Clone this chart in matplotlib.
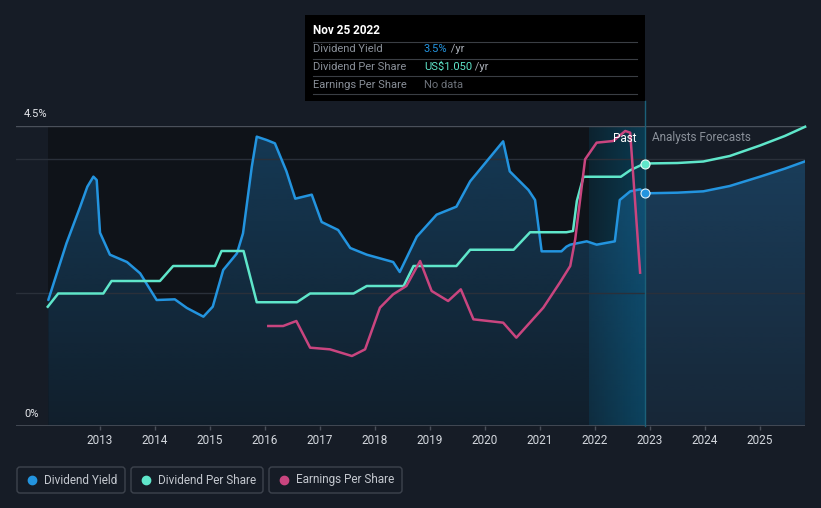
import numpy as np
import matplotlib.pyplot as plt
from matplotlib.patches import FancyBboxPatch, Rectangle

plt.rcParams['font.family'] = ['Roboto', 'DejaVu Sans']

# dividend yield (%), past and analyst forecast
yield_years = [2012.06, 2012.39, 2012.64, 2012.77, 2012.88, 2012.94, 2013.0, 2013.18, 2013.49,
               2013.73, 2014.03, 2014.36, 2014.58, 2014.88, 2015.05, 2015.24, 2015.49, 2015.6,
               2015.76, 2015.85, 2016.03, 2016.18, 2016.39, 2016.55, 2016.85, 2017.03, 2017.33,
               2017.55, 2017.85, 2018.33, 2018.45, 2018.76, 2019.12, 2019.48, 2019.73, 2020.33,
               2020.45, 2020.79, 2020.91, 2021.03, 2021.39, 2021.48, 2021.55, 2021.85, 2022.03,
               2022.36, 2022.45, 2022.64, 2022.82, 2022.9]
yield_pct = [1.89, 2.74, 3.29, 3.59, 3.74, 3.69, 2.9, 2.57, 2.46,
             2.29, 1.89, 1.9, 1.77, 1.64, 1.79, 2.34, 2.59, 2.89,
             3.89, 4.34, 4.29, 4.24, 3.82, 3.41, 3.47, 3.06, 2.94,
             2.67, 2.57, 2.46, 2.31, 2.84, 3.17, 3.29, 3.67, 4.27,
             3.82, 3.54, 3.39, 2.62, 2.62, 2.69, 2.72, 2.77, 2.72,
             2.77, 3.39, 3.52, 3.55, 3.49]
fc_yield_years = [2022.9, 2023.5, 2023.97, 2024.45, 2025.0, 2025.45, 2025.82]
fc_yield_pct = [3.49, 3.5, 3.52, 3.6, 3.74, 3.86, 3.97]

# dividend per share (US$)
dps_years = [2012.05, 2012.24, 2013.06, 2013.21, 2014.09, 2014.33, 2015.09, 2015.21, 2015.61,
             2015.85, 2016.58, 2016.82, 2017.61, 2017.85, 2018.52, 2018.7, 2019.48, 2019.73,
             2020.52, 2020.82, 2021.48, 2021.6, 2021.67, 2021.79, 2022.47, 2022.64, 2022.9]
dps = [0.477, 0.53, 0.53, 0.58, 0.58, 0.64, 0.64, 0.70, 0.70,
       0.495, 0.495, 0.53, 0.53, 0.56, 0.56, 0.64, 0.64, 0.705,
       0.705, 0.775, 0.775, 0.78, 0.90, 0.997, 0.997, 1.023, 1.05]
fc_dps_years = [2022.9, 2023.5, 2023.97, 2024.45, 2025.0, 2025.45, 2025.82]
fc_dps = [1.05, 1.052, 1.058, 1.08, 1.122, 1.16, 1.197]

# earnings per share (US$)
eps_years = [2016.06, 2016.33, 2016.57, 2016.82, 2017.18, 2017.58, 2017.82, 2018.09, 2018.33,
             2018.57, 2018.82, 2019.03, 2019.33, 2019.56, 2019.79, 2020.33, 2020.57, 2021.06,
             2021.36, 2021.55, 2021.64, 2021.82, 2022.03, 2022.33, 2022.55, 2022.64, 2022.82]
eps = [0.60, 0.60, 0.63, 0.47, 0.46, 0.42, 0.46, 0.71, 0.79,
       0.84, 0.99, 0.81, 0.75, 0.82, 0.64, 0.62, 0.53, 0.71,
       0.86, 0.96, 1.12, 1.60, 1.70, 1.71, 1.77, 1.76, 0.92]

tick_years = list(range(2013, 2026))
now = 2022.9
past_start = 2021.89

BG = '#161c26'
BLUE = '#2394df'
TEAL = '#5fe6ca'
PINK = '#c9457f'

W, H = 821, 508
fig = plt.figure(figsize=(W / 100, H / 100), dpi=100, facecolor=BG)

ax = fig.add_axes([16 / W, (H - 426) / H, 789 / W, 300 / H])
ax.set_facecolor(BG)
for s in ax.spines.values():
    s.set_visible(False)
ax.set_yticks([])
ax.set_xticks(tick_years, [str(y) for y in tick_years])
ax.tick_params(axis='x', colors='#4a505a', length=3, width=1, pad=3, labelsize=8.5,
               labelcolor='#d4d8de')

# darker past area
ax.add_patch(Rectangle((yield_years[0], 0), now - yield_years[0], 4.5,
                       facecolor='#0f1319', edgecolor='none', zorder=0))

# past highlight band
band = np.zeros((1, 64, 4))
band[..., 0] = 8 / 255
band[..., 1] = 72 / 255
band[..., 2] = 100 / 255
band[..., 3] = np.linspace(0.3, 0.75, 64)
ax.imshow(band, extent=[past_start, now, 0, 4.5], aspect='auto', zorder=1, interpolation='bilinear')

# gridlines
for g in [2.0, 4.0]:
    ax.axhline(g, color='#2a303a', lw=1, zorder=3)
ax.axhline(4.5, color='#4a505a', lw=1, zorder=3)
ax.axhline(0, color='#4a505a', lw=1.2, zorder=3)

# gradient fill under dividend yield
all_years = yield_years + fc_yield_years[1:]
all_yield = yield_pct + fc_yield_pct[1:]
fill = ax.fill_between(all_years, all_yield, 0, color='none', lw=0)
grad = np.zeros((128, 1, 4))
grad[..., 0] = 35 / 255
grad[..., 1] = 140 / 255
grad[..., 2] = 215 / 255
grad[..., 3] = np.linspace(0.32, 0.1, 128)[:, None]
im = ax.imshow(grad, extent=[all_years[0], all_years[-1], 0, 4.5], aspect='auto',
               zorder=2, interpolation='bilinear')
im.set_clip_path(fill.get_paths()[0], transform=ax.transData)
ax.set_xlim(2013 + (16 - 100) / 55, 2013 + (805 - 100) / 55)
ax.set_ylim(0, 4.5)

# now line
ax.plot([now, now], [0, 4.87], color='#1b6079', lw=1, zorder=4, clip_on=False)

ax.plot(yield_years, yield_pct, color=BLUE, lw=1.8, zorder=6, solid_capstyle='round')
ax.plot(fc_yield_years, fc_yield_pct, color=BLUE, lw=1.8, zorder=6)
ax.plot([now], [yield_pct[-1]], 'o', ms=6.5, color=BLUE, mec='#dff1fb', mew=0.8, zorder=9)

ax2 = ax.twinx()
ax2.set_ylim(0, 1.2)
ax2.axis('off')
ax2.plot(dps_years, dps, color=TEAL, lw=1.8, zorder=5)
ax2.plot(fc_dps_years, fc_dps, color=TEAL, lw=1.8, zorder=5, clip_on=False)
ax2.plot([now], [dps[-1]], 'o', ms=6.5, color=TEAL, mec='#e6fbf6', mew=0.8, zorder=9)

ax3 = ax.twinx()
ax3.set_ylim(0, 1.8)
ax3.axis('off')
ax3.plot(eps_years, eps, color=PINK, lw=1.8, zorder=5, clip_on=False)

# overlay in pixel space for labels, tooltip and legend
ov = fig.add_axes([0, 0, 1, 1], zorder=10)
ov.set_xlim(0, W)
ov.set_ylim(H, 0)
ov.axis('off')

ov.text(24, 114, '4.5%', color='#e6e8ec', fontsize=8, va='center', ha='left')
ov.text(24, 414, '0%', color='#e6e8ec', fontsize=8, va='center', ha='left')
ov.text(636, 138, 'Past', color='#ffffff', fontsize=8.5, va='center', ha='right')
ov.text(652, 138, 'Analysts Forecasts', color='#8a9099', fontsize=8.5, va='center', ha='left')

# tooltip
ov.add_patch(Rectangle((305, 15), 340, 86, facecolor='#000000', edgecolor='none'))
ov.text(313, 30, 'Nov 25 2022', color='#ffffff', fontsize=8.5, fontweight='bold', va='center')
for yy in [41.5, 58.5, 76, 93.5]:
    ov.plot([313, 637], [yy, yy], color='#3a3e44', lw=0.8)
rows = [('Dividend Yield', '3.5%', BLUE, ' /yr'),
        ('Dividend Per Share', 'US$1.050', TEAL, ' /yr'),
        ('Earnings Per Share', 'No data', '#6d727a', '')]
for (lab, val, col, unit), yy in zip(rows, [49.5, 66.5, 84.5]):
    ov.text(313, yy, lab, color='#8a9099', fontsize=8, va='center')
    t = ov.text(424, yy, val, color=col, fontsize=8, va='center')
    if unit:
        ov.annotate(unit, xycoords=t, xy=(1, 0.5), va='center', color='#a8adb5', fontsize=8)

# legend
legend_items = [('Dividend Yield', BLUE, 17, 108),
                ('Dividend Per Share', TEAL, 131, 132),
                ('Earnings Per Share', PINK, 269, 133)]
for name, col, x, w in legend_items:
    ov.add_patch(FancyBboxPatch((x, 467), w, 26, boxstyle='round,pad=0,rounding_size=3',
                                facecolor='none', edgecolor='#3d434d', lw=1))
    ov.plot([x + 15], [480], 'o', ms=6, color=col)
    ov.text(x + 27, 480, name, color='#c4c8cf', fontsize=8.5, va='center')

fig.savefig('out.png', dpi=100, facecolor=BG)
